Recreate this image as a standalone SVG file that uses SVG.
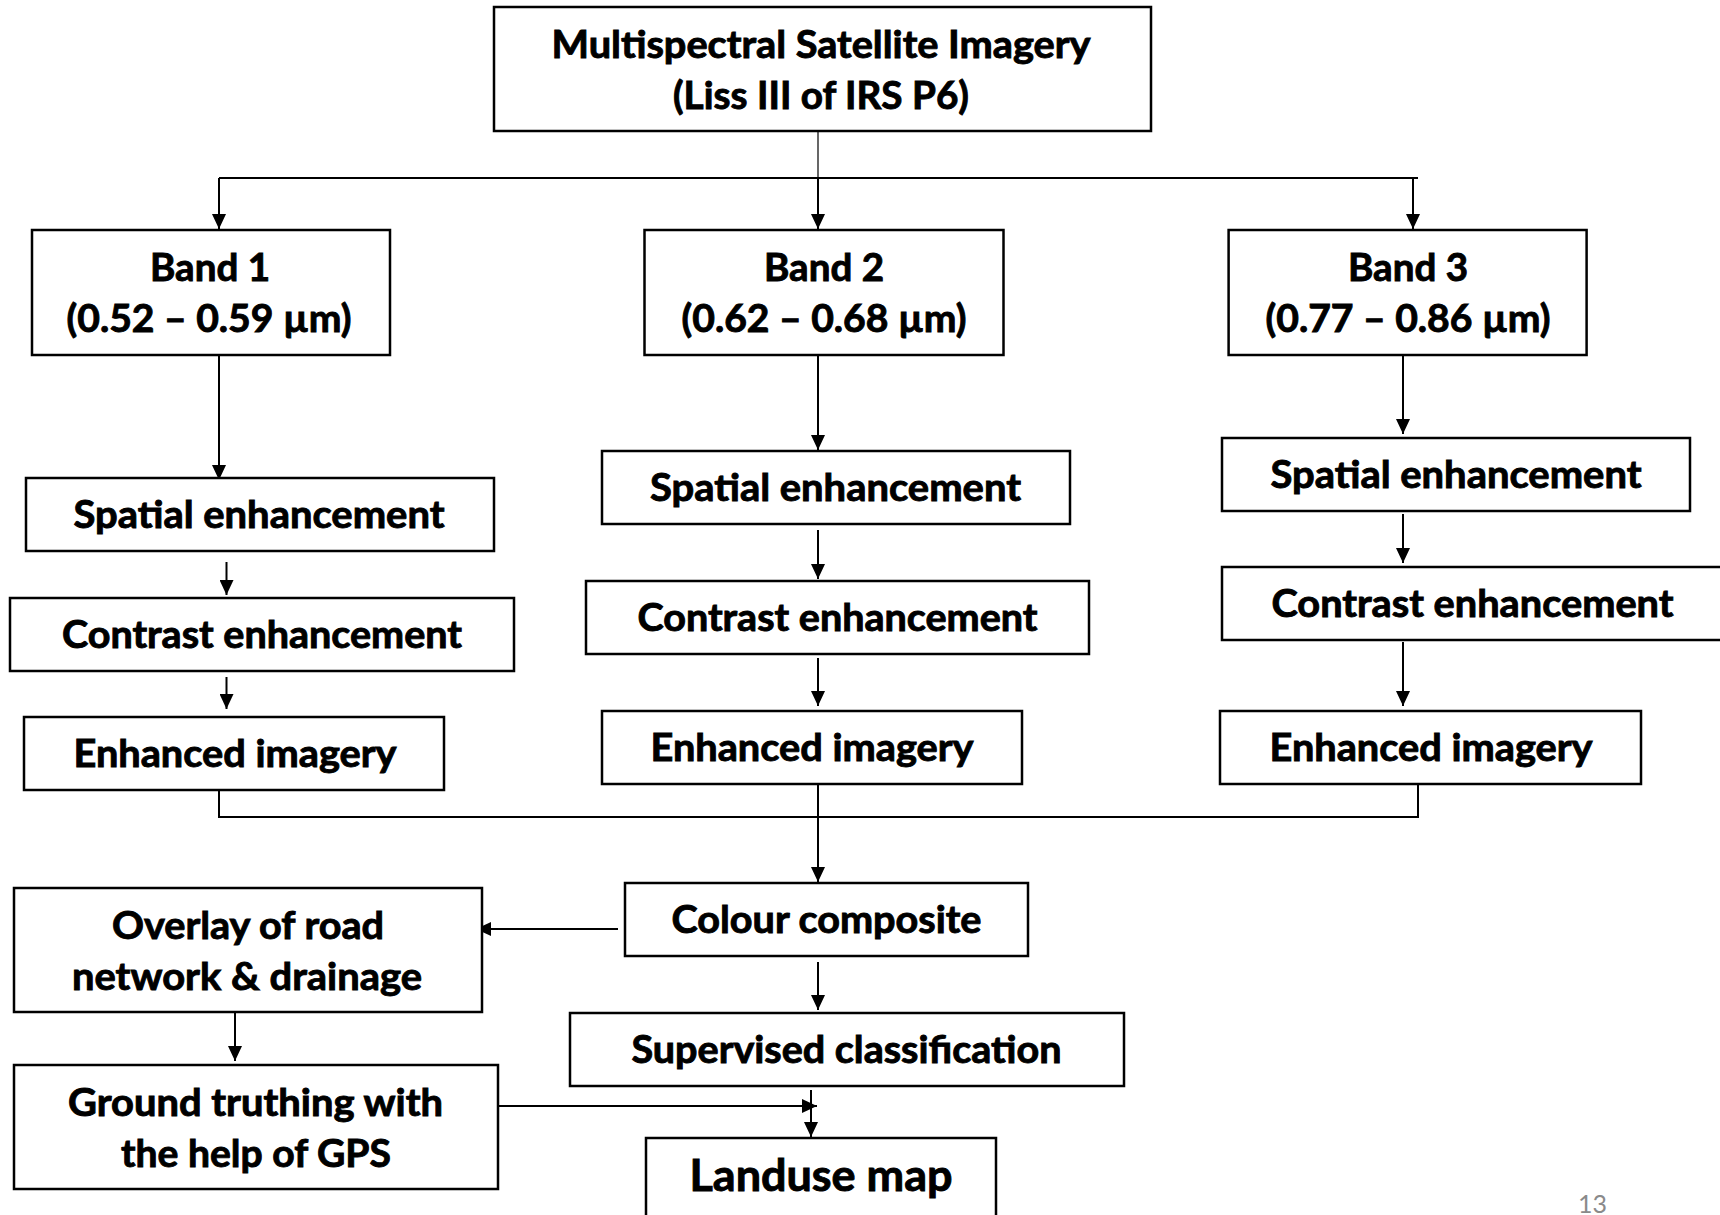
<svg xmlns="http://www.w3.org/2000/svg" width="1720" height="1215" viewBox="0 0 1720 1215">
<defs>
<marker id="ah" markerUnits="userSpaceOnUse" markerWidth="16" markerHeight="14" refX="15" refY="7" orient="auto">
<path d="M0,0 L15,7 L0,14 z" fill="#000"/>
</marker>
<style>
.box{fill:#fff;stroke:#000;stroke-width:2.5}
.t{font-family:Lato,"Liberation Sans",sans-serif;font-weight:bold;font-size:38px;fill:#000;stroke:#000;stroke-width:0.9;text-anchor:middle}
.c{fill:none;stroke:#000;stroke-width:2}
.a{fill:none;stroke:#000;stroke-width:2;marker-end:url(#ah)}
</style>
</defs>
<rect width="1720" height="1215" fill="#fff"/>
<g id="connectors">
<line x1="818" y1="131" x2="818" y2="178" stroke="#000" stroke-width="1.2"/>
<line class="c" x1="219" y1="178" x2="1418" y2="178"/>
<line class="a" x1="219" y1="178" x2="219" y2="229"/>
<line class="a" x1="818" y1="178" x2="818" y2="229"/>
<line class="a" x1="1413" y1="178" x2="1413" y2="229"/>
<line class="a" x1="219" y1="355" x2="219" y2="480"/>
<line class="a" x1="226.5" y1="562" x2="226.5" y2="595"/>
<line class="a" x1="226.5" y1="677" x2="226.5" y2="709"/>
<line class="a" x1="818" y1="355" x2="818" y2="450"/>
<line class="a" x1="818" y1="530" x2="818" y2="579"/>
<line class="a" x1="818" y1="658" x2="818" y2="706"/>
<line class="a" x1="1403" y1="355" x2="1403" y2="434"/>
<line class="a" x1="1403" y1="514" x2="1403" y2="563"/>
<line class="a" x1="1403" y1="642" x2="1403" y2="706"/>
<polyline class="c" points="219,786 219,817 1418,817 1418,784"/>
<line class="a" x1="818" y1="784" x2="818" y2="882"/>
<line class="a" x1="618" y1="929" x2="476" y2="929"/>
<line class="a" x1="235" y1="1010" x2="235" y2="1061"/>
<line class="a" x1="818" y1="962" x2="818" y2="1010"/>
<line class="a" x1="811" y1="1090" x2="811" y2="1137"/>
<line class="a" x1="498" y1="1106" x2="817" y2="1106"/>
</g>
<g id="n-top"><rect class="box" x="494" y="7" width="657" height="124"/>
<text class="t" x="821" y="58" textLength="539" lengthAdjust="spacingAndGlyphs">Multispectral Satellite Imagery</text>
<text class="t" x="821" y="109" textLength="296" lengthAdjust="spacingAndGlyphs">(Liss III of IRS P6)</text></g>
<g id="n-band1"><rect class="box" x="32" y="230" width="358" height="125"/>
<text class="t" x="210" y="281" textLength="120" lengthAdjust="spacingAndGlyphs">Band 1</text>
<text class="t" x="209" y="332" textLength="285" lengthAdjust="spacingAndGlyphs">(0.52 – 0.59 µm)</text></g>
<g id="n-band2"><rect class="box" x="644.5" y="230" width="359" height="125"/>
<text class="t" x="824" y="281" textLength="120" lengthAdjust="spacingAndGlyphs">Band 2</text>
<text class="t" x="824" y="332" textLength="285" lengthAdjust="spacingAndGlyphs">(0.62 – 0.68 µm)</text></g>
<g id="n-band3"><rect class="box" x="1228.6" y="230" width="358" height="125"/>
<text class="t" x="1408" y="281" textLength="120" lengthAdjust="spacingAndGlyphs">Band 3</text>
<text class="t" x="1408" y="332" textLength="285" lengthAdjust="spacingAndGlyphs">(0.77 – 0.86 µm)</text></g>
<g id="n-sp1"><rect class="box" x="26" y="478" width="468" height="73"/>
<text class="t" x="259" y="528" textLength="371" lengthAdjust="spacingAndGlyphs">Spatial enhancement</text></g>
<g id="n-ct1"><rect class="box" x="10" y="598" width="504" height="73"/>
<text class="t" x="262" y="648" textLength="400" lengthAdjust="spacingAndGlyphs">Contrast enhancement</text></g>
<g id="n-en1"><rect class="box" x="24" y="717" width="420" height="73"/>
<text class="t" x="235" y="767" textLength="323" lengthAdjust="spacingAndGlyphs">Enhanced imagery</text></g>
<g id="n-sp2"><rect class="box" x="602" y="451" width="468" height="73"/>
<text class="t" x="835.5" y="501" textLength="371" lengthAdjust="spacingAndGlyphs">Spatial enhancement</text></g>
<g id="n-ct2"><rect class="box" x="586" y="581" width="503" height="73"/>
<text class="t" x="837.5" y="631" textLength="400" lengthAdjust="spacingAndGlyphs">Contrast enhancement</text></g>
<g id="n-en2"><rect class="box" x="602" y="711" width="420" height="73"/>
<text class="t" x="812" y="761" textLength="323" lengthAdjust="spacingAndGlyphs">Enhanced imagery</text></g>
<g id="n-sp3"><rect class="box" x="1222" y="438" width="468" height="73"/>
<text class="t" x="1456" y="488" textLength="371" lengthAdjust="spacingAndGlyphs">Spatial enhancement</text></g>
<g id="n-ct3"><rect class="box" x="1222" y="567" width="510" height="73"/>
<text class="t" x="1472.5" y="617" textLength="402" lengthAdjust="spacingAndGlyphs">Contrast enhancement</text></g>
<g id="n-en3"><rect class="box" x="1220" y="711" width="421" height="73"/>
<text class="t" x="1431" y="761" textLength="323" lengthAdjust="spacingAndGlyphs">Enhanced imagery</text></g>
<g id="n-colour"><rect class="box" x="625" y="883" width="403" height="73"/>
<text class="t" x="826.5" y="933" textLength="310" lengthAdjust="spacingAndGlyphs">Colour composite</text></g>
<g id="n-overlay"><rect class="box" x="14" y="888" width="468" height="124"/>
<text class="t" x="248" y="939" textLength="272" lengthAdjust="spacingAndGlyphs">Overlay of road</text>
<text class="t" x="247" y="990" textLength="350" lengthAdjust="spacingAndGlyphs">network &amp; drainage</text></g>
<g id="n-ground"><rect class="box" x="14" y="1065" width="484" height="124"/>
<text class="t" x="255.5" y="1116" textLength="375" lengthAdjust="spacingAndGlyphs">Ground truthing with</text>
<text class="t" x="256" y="1167" textLength="270" lengthAdjust="spacingAndGlyphs">the help of GPS</text></g>
<g id="n-supervised"><rect class="box" x="570" y="1013" width="554" height="73"/>
<text class="t" x="846.5" y="1063" textLength="430" lengthAdjust="spacingAndGlyphs">Supervised classification</text></g>
<g id="n-landuse"><rect class="box" x="646" y="1138" width="350" height="95"/>
<text class="t" x="821" y="1191" style="font-size:44px" textLength="263" lengthAdjust="spacingAndGlyphs">Landuse map</text></g>
<text x="1592.5" y="1213" font-family="Lato,'Liberation Sans',sans-serif" font-size="25" fill="#8a8a8a" text-anchor="middle" textLength="29" lengthAdjust="spacingAndGlyphs">13</text>
</svg>
